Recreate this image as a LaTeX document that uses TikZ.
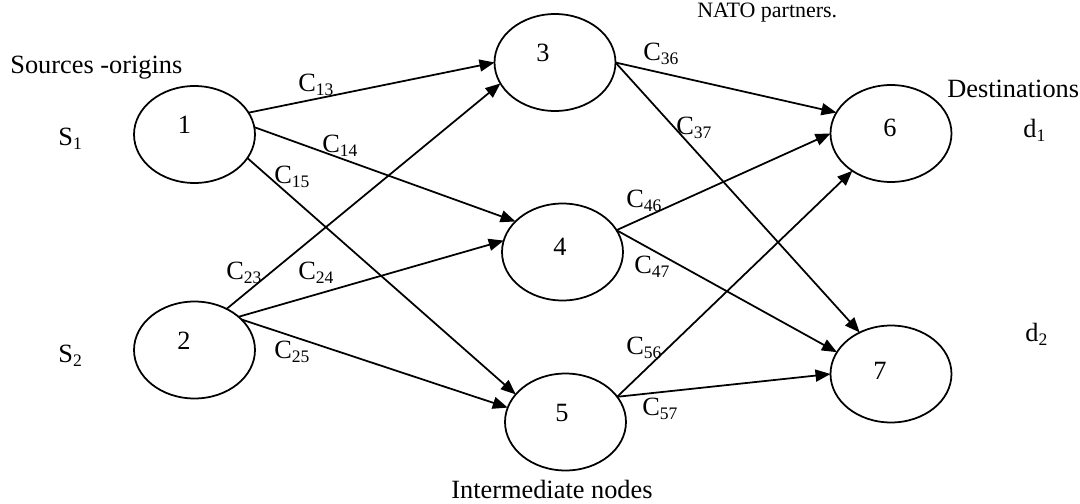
\documentclass[tikz,border=0pt]{standalone}
\usepackage{fontspec}
\setmainfont{Liberation Serif}
\usetikzlibrary{calc,shapes,shapes.geometric,arrows.meta,positioning}
\newcommand{\sbs}[1]{\raisebox{-2.5pt}{\fontsize{10}{12}\selectfont #1}}
\tikzset{%
    place/.style={%
        ellipse, draw, line width=1pt, minimum width=2.42cm, minimum height=1.94cm, inner sep=0pt, outer sep=0pt
    },
    num/.style={%
        inner sep=0pt, font=\fontsize{15}{18}\selectfont
    },
    flow/.style={%
        -{Triangle[length=0.3cm,width=0.24cm]}, line width=1pt
    },
    txt/.style={%
        anchor=base west, inner sep=0pt, font=\fontsize{15}{18}\selectfont
    },
    cost/.style={%
        txt
    },
}

\begin{document}
\begin{tikzpicture}[x=0.02cm, y=-0.02cm]
    \useasboundingbox (0,0) rectangle (1080,504);

    \node[txt, font=\fontsize{12.5}{15}\selectfont] (note) at (697,17) {NATO partners.};

    \begin{scope}
      \node[txt] (sources) at (10,73) {Sources -origins};
      \node[txt] (s1) at (58,145) {S\sbs{1}};
      \node[txt] (s2) at (58,362) {S\sbs{2}};
      \node[place, label={[num, xshift=-0.2cm, yshift=0.2cm]center:1}] (n1) at (194.5,134.5) {};
      \node[place, label={[num, xshift=-0.21cm, yshift=0.18cm]center:2}] (n2) at (194.5,350) {};
    \end{scope}

    \begin{scope}
      \node[place, label={[num, xshift=-0.24cm, yshift=0.19cm]center:3}] (n3) at (555,62.5) {};
      \node[place, label={[num, xshift=-0.05cm, yshift=0.1cm]center:4}] (n4) at (562.5,252) {};
      \node[place, label={[num, xshift=-0.07cm, yshift=0.18cm]center:5}] (n5) at (565.5,422) {};
      \node[txt] (inter) at (451,498) {Intermediate nodes};
    \end{scope}

    \begin{scope}
      \node[place, label={[num, xshift=-0.02cm, yshift=0.11cm]center:6}] (n6) at (891,133.5) {};
      \node[place, label={[num, xshift=-0.22cm, yshift=0.06cm]center:7}] (n7) at (891,374) {};
      \node[txt] (dest) at (947,97) {Destinations};
      \node[txt] (d1) at (1023,137) {d\sbs{1}};
      \node[txt] (d2) at (1025,341) {d\sbs{2}};
    \end{scope}

    \draw[flow] (n1.22) -- (n3.west);
    \draw[flow] (n1.7) -- (n4.147);
    \draw[flow] (n1.-24) -- (n5.151);
    \draw[flow] (n2.52) -- (n3.201);
    \draw[flow] (n2.37) -- (n4.169);
    \draw[flow] (n2.33) -- (n5.166);
    \draw[flow] (n3.east) -- (n6.159);
    \draw[flow] (n3.east) -- (n7.127);
    \draw[flow] (n4.22) -- (n6.west);
    \draw[flow] (n4.22) -- (n7.158);
    \draw[flow] (n5.26) -- (n6.224);
    \draw[flow] (n5.26) -- (n7.west);

    \node[cost] (c13) at (298,91) {C\sbs{13}};
    \node[cost] (c14) at (322,152) {C\sbs{14}};
    \node[cost] (c15) at (274,183) {C\sbs{15}};
    \node[cost] (c23) at (226,279) {C\sbs{23}};
    \node[cost] (c24) at (298,279) {C\sbs{24}};
    \node[cost] (c25) at (274,358) {C\sbs{25}};
    \node[cost] (c36) at (643,60) {C\sbs{36}};
    \node[cost] (c37) at (676,134) {C\sbs{37}};
    \node[cost] (c46) at (626,207) {C\sbs{46}};
    \node[cost] (c47) at (634,273) {C\sbs{47}};
    \node[cost] (c56) at (626,354) {C\sbs{56}};
    \node[cost] (c57) at (642,415) {C\sbs{57}};

  \end{tikzpicture}
\end{document}
